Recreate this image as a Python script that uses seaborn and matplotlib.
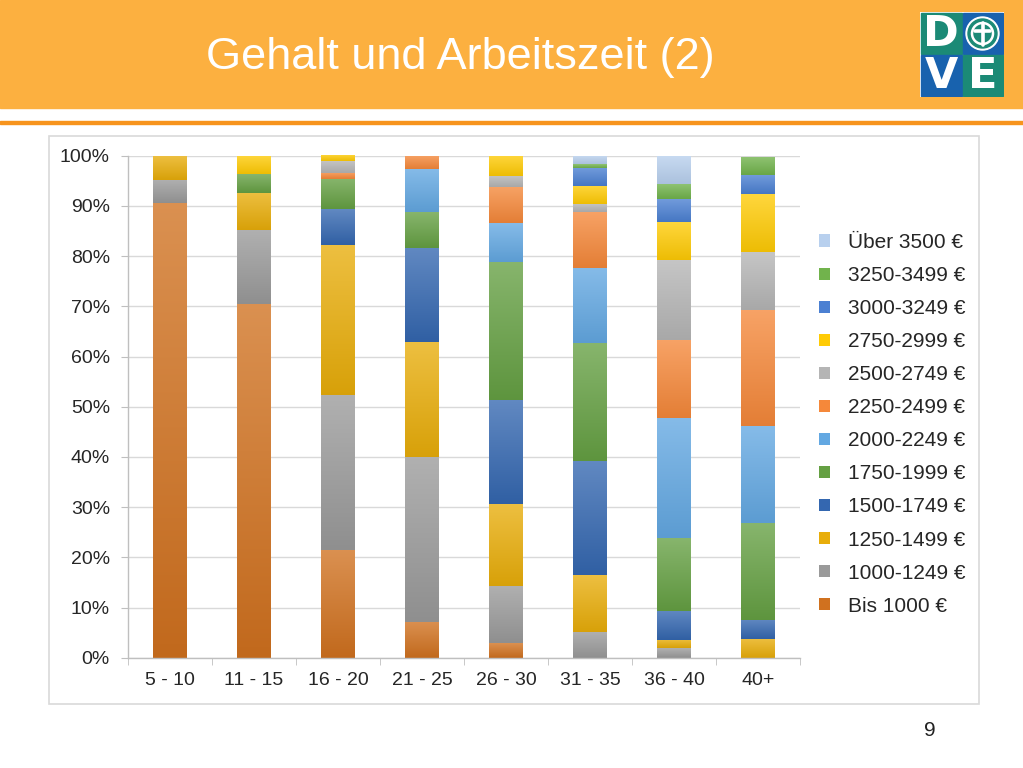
import matplotlib
matplotlib.use("Agg")
import matplotlib.pyplot as plt
import matplotlib.patches as mpatches
import matplotlib.colors as mcolors
import numpy as np
import seaborn as sns

categories = ["5 - 10", "11 - 15", "16 - 20", "21 - 25", "26 - 30", "31 - 35", "36 - 40", "40+"]
series_labels = ["Bis 1000 €", "1000-1249 €", "1250-1499 €", "1500-1749 €", "1750-1999 €",
                 "2000-2249 €", "2250-2499 €", "2500-2749 €", "2750-2999 €", "3000-3249 €",
                 "3250-3499 €", "Über 3500 €"]
bis_1000 = [90.5, 70.4, 21.4, 7.2, 2.9, 0, 0, 0]
s_1000_1249 = [4.75, 14.8, 31.0, 32.8, 11.4, 5.2, 1.9, 0]
s_1250_1499 = [4.75, 7.4, 29.8, 22.9, 16.3, 11.3, 1.6, 3.8]
s_1500_1749 = [0, 0, 7.1, 18.8, 20.7, 22.7, 5.8, 3.8]
s_1750_1999 = [0, 3.7, 6.0, 7.0, 27.5, 23.4, 14.5, 19.3]
s_2000_2249 = [0, 0, 0, 8.6, 7.7, 15.0, 24.0, 19.3]
s_2250_2499 = [0, 0, 1.2, 2.7, 7.2, 11.2, 15.5, 23.1]
s_2500_2749 = [0, 0, 2.4, 0, 2.3, 1.6, 15.9, 11.5]
s_2750_2999 = [0, 3.7, 1.2, 0, 4.0, 3.6, 7.5, 11.5]
s_3000_3249 = [0, 0, 0, 0, 0, 3.6, 4.6, 3.9]
s_3250_3499 = [0, 0, 0, 0, 0, 0.7, 3.1, 3.6]
ueber_3500 = [0, 0, 0, 0, 0, 1.7, 5.6, 0]
series_values = [bis_1000, s_1000_1249, s_1250_1499, s_1500_1749, s_1750_1999, s_2000_2249,
                 s_2250_2499, s_2500_2749, s_2750_2999, s_3000_3249, s_3250_3499, ueber_3500]
colors = ["#D0711F", "#9A9A9A", "#E8AD0A", "#3467B0", "#65A043", "#63A8E2",
          "#F5883A", "#B5B5B5", "#FFCB05", "#4B80D2", "#71B34C", "#B8D0EE"]
y_ticks = [0, 10, 20, 30, 40, 50, 60, 70, 80, 90, 100]
title = "Gehalt und Arbeitszeit (2)"
page_no = "9"

sns.set_style("white")
plt.rcParams["font.family"] = ["Liberation Sans", "DejaVu Sans"]

fig = plt.figure(figsize=(10.23, 7.68), dpi=100)
W, H = 1023, 768

def fx(x):
    return x / W

def fy(y):
    return 1 - y / H

# Header band
fig.patches.append(mpatches.Rectangle((0, fy(108)), 1, 108 / H, transform=fig.transFigure,
                                      color="#FCB040", zorder=-2))
fig.patches.append(mpatches.Rectangle((0, fy(124)), 1, 3 / H, transform=fig.transFigure,
                                      color="#F7941D", zorder=-2))
fig.text(fx(460), fy(58), title, color="white", fontsize=32.5, ha="center", va="center")

# Chart frame
fig.patches.append(mpatches.Rectangle((fx(49), fy(704)), fx(979 - 49), (704 - 136) / H,
                                      transform=fig.transFigure, fill=False,
                                      edgecolor="#D9D9D9", linewidth=1.2, zorder=-1))

ax = fig.add_axes([fx(128), fy(657.7), fx(800 - 128), (657.7 - 155.7) / H])
cum = np.zeros(len(categories))
for lab, vals, col in zip(series_labels, series_values, colors):
    sns.barplot(x=categories, y=vals, bottom=cum.copy(), color=col, width=0.4,
                ax=ax, label=lab, saturation=1, linewidth=0)
    cum += np.array(vals)

ax.set_ylim(0, 100)
ax.set_xlim(-0.5, len(categories) - 0.5)

# subtle vertical gradient on each segment (lighter at the top)
for p in list(ax.patches):
    h = p.get_height()
    if h <= 0:
        continue
    base = np.array(mcolors.to_rgb(p.get_facecolor()))
    top = base + (1 - base) * 0.22
    bot = base * 0.93
    t = np.linspace(0, 1, 64)[:, None]
    grad = (top[None, :] * (1 - t) + bot[None, :] * t)[:, None, :]
    x0, y0 = p.get_x(), p.get_y()
    im = ax.imshow(grad, extent=(x0, x0 + p.get_width(), y0, y0 + h), origin="upper",
                   aspect="auto", zorder=p.get_zorder() + 0.1, interpolation="bilinear")
    im.set_clip_path(p)

ax.set_ylim(0, 100)
ax.set_xlim(-0.5, len(categories) - 0.5)
ax.set_yticks(y_ticks)
ax.set_yticklabels([f"{t}%" for t in y_ticks])
ax.grid(axis="y", color="#D9D9D9", linewidth=1)
ax.set_axisbelow(True)
for s in ["top", "right"]:
    ax.spines[s].set_visible(False)
for s in ["left", "bottom"]:
    ax.spines[s].set_color("#BFBFBF")
    ax.spines[s].set_linewidth(1)
ax.tick_params(axis="y", length=5, color="#BFBFBF", labelsize=14, pad=8, left=True)
ax.tick_params(axis="x", which="major", length=0, labelsize=14, pad=10)
ax.set_xticks(np.arange(-0.5, len(categories), 1), minor=True)
ax.tick_params(axis="x", which="minor", length=5, color="#BFBFBF", bottom=True)
ax.set_xlabel("")
ax.set_ylabel("")

handles, labels = ax.get_legend_handles_labels()
leg = ax.legend(handles[::-1], labels[::-1], loc="upper left",
                bbox_to_anchor=(fx(819), fy(233)), bbox_transform=fig.transFigure,
                frameon=False, fontsize=15, handlelength=0.53, handleheight=0.53,
                labelspacing=0.675, handletextpad=0.85, borderpad=0, borderaxespad=0)

fig.text(fx(930), fy(730), page_no, fontsize=15, ha="center", va="center", color="#222222")

# Logo
lax = fig.add_axes([fx(920), fy(97), fx(84), 85 / H])
lax.set_zorder(5)
lax.set_xlim(0, 84)
lax.set_ylim(0, 85)
lax.axis("off")
teal, blue = "#1B8A76", "#1862AE"
lax.add_patch(mpatches.Rectangle((0, 0), 84, 85, color="white"))
lax.add_patch(mpatches.Rectangle((1, 43.5), 40.5, 40.5, color=teal))
lax.add_patch(mpatches.Rectangle((42.5, 43.5), 40.5, 40.5, color=blue))
lax.add_patch(mpatches.Rectangle((1, 1), 40.5, 41.5, color=blue))
lax.add_patch(mpatches.Rectangle((42.5, 1), 40.5, 41.5, color=teal))
for (lx, ly, letter) in [(21, 63.5, "D"), (21, 21.5, "V"), (62.5, 21.5, "E")]:
    lax.text(lx, ly, letter, color="white", fontsize=31, fontweight="heavy",
             family="DejaVu Sans", ha="center", va="center")
lax.add_patch(mpatches.Circle((62.5, 63.5), 16.5, color="white"))
lax.add_patch(mpatches.Circle((62.5, 63.5), 14.5, color=teal))
lax.add_patch(mpatches.Circle((62.5, 63.5), 10.5, fill=False, edgecolor="white", linewidth=1.8))
lax.plot([62.5, 62.5], [52.5, 74.5], color="white", linewidth=2.6)
lax.plot([55, 70], [66, 66], color="white", linewidth=2.6)

fig.savefig("out.png", dpi=100, facecolor="white")
